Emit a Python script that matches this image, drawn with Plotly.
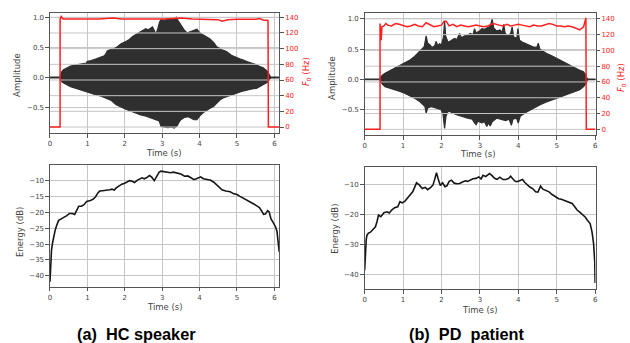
import plotly.graph_objects as go

# ---------------- data ----------------
TIME_TICKS = [0, 1, 2, 3, 4, 5, 6]
AMP_TICKS = [-0.5, 0.0, 0.5, 1.0]
AMP_TICK_LABELS = ["\u22120.5", "0.0", "0.5", "1.0"]
F0_TICKS = [0, 20, 40, 60, 80, 100, 120, 140]
HC_EN_TICKS = [-40, -35, -30, -25, -20, -15, -10]
HC_EN_TICK_LABELS = ["\u221240", "\u221235", "\u221230", "\u221225", "\u221220", "\u221215", "\u221210"]
PD_EN_TICKS = [-40, -30, -20, -10]
PD_EN_TICK_LABELS = ["\u221240", "\u221230", "\u221220", "\u221210"]

# HC speaker: waveform envelope (time s, amplitude)
HC_UPPER = [(0.00, 0.005), (0.26, 0.005), (0.28, 0.03), (0.31, 0.09), (0.36, 0.13), (0.44, 0.16),
            (0.55, 0.19), (0.70, 0.21), (0.85, 0.22), (0.97, 0.24), (1.00, 0.27), (1.10, 0.28),
            (1.24, 0.31), (1.35, 0.33), (1.45, 0.36), (1.50, 0.40), (1.53, 0.44), (1.60, 0.46),
            (1.68, 0.47), (1.78, 0.50), (1.90, 0.56), (2.04, 0.60), (2.12, 0.63), (2.21, 0.68),
            (2.35, 0.73), (2.48, 0.78), (2.56, 0.81), (2.62, 0.79), (2.74, 0.84), (2.79, 0.78),
            (2.83, 0.72), (2.88, 0.80), (2.93, 0.92), (2.97, 0.96), (3.05, 0.95), (3.15, 0.97),
            (3.23, 0.98), (3.32, 0.97), (3.38, 1.00), (3.42, 0.95), (3.47, 0.90), (3.52, 0.84),
            (3.60, 0.78), (3.67, 0.74), (3.76, 0.76), (3.85, 0.78), (3.93, 0.80), (3.98, 0.76),
            (4.05, 0.72), (4.15, 0.69), (4.28, 0.64), (4.38, 0.58), (4.46, 0.51), (4.60, 0.46),
            (4.72, 0.43), (4.85, 0.37), (4.99, 0.33), (5.12, 0.30), (5.25, 0.27), (5.40, 0.24),
            (5.52, 0.21), (5.62, 0.18), (5.70, 0.16), (5.78, 0.12), (5.83, 0.09), (5.87, 0.04),
            (5.90, 0.005), (6.13, 0.005)]
HC_LOWER = [(0.00, -0.005), (0.26, -0.005), (0.28, -0.03), (0.33, -0.08), (0.44, -0.12), (0.55, -0.15),
            (0.70, -0.18), (0.85, -0.20), (0.97, -0.23), (1.10, -0.26), (1.24, -0.29), (1.37, -0.31),
            (1.50, -0.34), (1.64, -0.38), (1.77, -0.45), (1.90, -0.49), (2.04, -0.53), (2.17, -0.57),
            (2.30, -0.59), (2.43, -0.62), (2.57, -0.64), (2.70, -0.66), (2.83, -0.70), (2.92, -0.72),
            (2.97, -0.81), (3.05, -0.82), (3.15, -0.83), (3.25, -0.82), (3.32, -0.84), (3.40, -0.80),
            (3.45, -0.74), (3.50, -0.70), (3.60, -0.66), (3.70, -0.65), (3.78, -0.67), (3.85, -0.70),
            (3.93, -0.70), (4.00, -0.64), (4.10, -0.58), (4.19, -0.54), (4.28, -0.51), (4.37, -0.48),
            (4.46, -0.42), (4.55, -0.37), (4.63, -0.34), (4.72, -0.32), (4.85, -0.29), (4.99, -0.26),
            (5.12, -0.23), (5.25, -0.21), (5.40, -0.19), (5.52, -0.18), (5.62, -0.14), (5.70, -0.12),
            (5.78, -0.09), (5.83, -0.07), (5.88, -0.03), (5.90, -0.005), (6.13, -0.005)]
# HC speaker: F0 contour (time s, Hz)
HC_F0 = [(0.00, 0), (0.27, 0), (0.27, 138), (0.30, 141), (0.35, 138), (0.50, 138), (0.80, 137.5),
         (1.00, 137.5), (1.30, 138), (1.50, 138.5), (1.70, 139), (1.90, 138), (2.20, 138),
         (2.50, 137.5), (2.80, 138), (3.00, 138), (3.30, 138.5), (3.50, 139), (3.80, 138),
         (4.00, 137.5), (4.30, 137.5), (4.50, 137), (4.60, 135), (4.75, 137), (5.00, 137.5),
         (5.30, 137), (5.50, 137.5), (5.60, 138.5), (5.70, 136.5), (5.83, 136), (5.84, 0), (6.13, 0)]
# HC speaker: energy contour (time s, dB)
HC_ENERGY = [(0.00, -41.9), (0.02, -36), (0.04, -32), (0.07, -29.5), (0.10, -27.5), (0.14, -25.5),
             (0.18, -24), (0.23, -22.5), (0.30, -22), (0.38, -21.6), (0.45, -21), (0.52, -20.3),
             (0.60, -20.3), (0.66, -20.6), (0.72, -19), (0.77, -18), (0.84, -18), (0.91, -17.5),
             (0.98, -16.5), (1.06, -16.3), (1.15, -15.8), (1.22, -15), (1.28, -13.8), (1.33, -13.2),
             (1.40, -13.1), (1.50, -13), (1.60, -12.8), (1.66, -12.6), (1.72, -12.9), (1.77, -12.2),
             (1.85, -11.5), (1.92, -11), (2.00, -10.7), (2.06, -10.2), (2.13, -9.9), (2.20, -10.1),
             (2.26, -10.5), (2.33, -9.8), (2.40, -9.4), (2.46, -9.0), (2.52, -9.3), (2.58, -9.0),
             (2.66, -8.3), (2.72, -8.8), (2.79, -9.9), (2.85, -8.5), (2.92, -7.2), (2.97, -6.9),
             (3.05, -7.1), (3.14, -7.2), (3.22, -7.4), (3.30, -7.2), (3.41, -7.4), (3.50, -7.8),
             (3.60, -8.5), (3.68, -8.4), (3.76, -8.9), (3.85, -9.6), (3.93, -9.2), (4.03, -8.7),
             (4.10, -9.3), (4.20, -9.5), (4.30, -9.8), (4.38, -10.4), (4.46, -11.3), (4.53, -12.2),
             (4.60, -12.8), (4.70, -13.2), (4.82, -13.4), (4.90, -14.0), (5.00, -14.3), (5.08, -14.9),
             (5.18, -15.5), (5.27, -16.0), (5.36, -16.7), (5.45, -17.3), (5.53, -17.9), (5.60, -18.4),
             (5.66, -19.5), (5.71, -20.6), (5.76, -20.5), (5.82, -19.4), (5.86, -19.8), (5.91, -22.0),
             (5.97, -23.2), (6.03, -24.5), (6.07, -26), (6.10, -29), (6.13, -32.5)]

# PD patient: waveform envelope (time s, amplitude)
PD_UPPER = [(0.00, 0.005), (0.39, 0.005), (0.41, 0.03), (0.46, 0.07), (0.53, 0.10), (0.65, 0.14),
            (0.79, 0.18), (0.92, 0.22), (1.04, 0.27), (1.18, 0.32), (1.30, 0.38), (1.40, 0.44),
            (1.48, 0.50), (1.55, 0.54), (1.60, 0.72), (1.64, 0.60), (1.69, 0.58), (1.75, 0.53),
            (1.82, 0.55), (1.86, 0.63), (1.90, 0.56), (1.95, 0.59), (2.00, 0.57), (2.05, 0.70),
            (2.08, 0.96), (2.11, 0.72), (2.17, 0.61), (2.25, 0.64), (2.34, 0.68), (2.40, 0.66),
            (2.47, 0.76), (2.52, 0.69), (2.60, 0.72), (2.68, 0.73), (2.75, 0.76), (2.82, 0.74),
            (2.86, 0.84), (2.90, 0.77), (2.99, 0.80), (3.05, 0.84), (3.12, 0.83), (3.20, 0.86),
            (3.27, 0.88), (3.32, 1.00), (3.36, 0.85), (3.44, 0.80), (3.52, 0.82), (3.58, 0.78),
            (3.62, 0.91), (3.66, 0.76), (3.72, 0.72), (3.80, 0.76), (3.84, 0.87), (3.88, 0.70),
            (3.96, 0.68), (3.99, 0.84), (4.03, 0.65), (4.10, 0.62), (4.18, 0.60), (4.28, 0.57),
            (4.38, 0.54), (4.48, 0.53), (4.52, 0.60), (4.56, 0.50), (4.65, 0.46), (4.74, 0.43),
            (4.87, 0.39), (5.00, 0.35), (5.12, 0.31), (5.25, 0.27), (5.38, 0.22), (5.51, 0.18),
            (5.60, 0.15), (5.69, 0.13), (5.74, 0.09), (5.77, 0.05), (5.80, 0.005), (6.01, 0.005)]
PD_LOWER = [(0.00, -0.005), (0.39, -0.005), (0.41, -0.04), (0.46, -0.08), (0.53, -0.12), (0.65, -0.14),
            (0.79, -0.17), (0.92, -0.20), (1.04, -0.23), (1.18, -0.27), (1.30, -0.31), (1.42, -0.36),
            (1.52, -0.42), (1.57, -0.45), (1.60, -0.56), (1.64, -0.47), (1.73, -0.45), (1.85, -0.47),
            (1.99, -0.50), (2.04, -0.58), (2.08, -0.81), (2.12, -0.60), (2.18, -0.52), (2.30, -0.56),
            (2.43, -0.59), (2.55, -0.62), (2.68, -0.64), (2.80, -0.66), (2.86, -0.72), (2.90, -0.75),
            (2.95, -0.69), (3.05, -0.72), (3.12, -0.70), (3.18, -0.78), (3.22, -0.72), (3.27, -0.77),
            (3.32, -0.70), (3.44, -0.64), (3.55, -0.66), (3.67, -0.68), (3.76, -0.66), (3.82, -0.76),
            (3.86, -0.66), (3.95, -0.64), (4.00, -0.72), (4.05, -0.61), (4.18, -0.55), (4.31, -0.50),
            (4.44, -0.46), (4.57, -0.42), (4.70, -0.38), (4.83, -0.34), (4.96, -0.31), (5.09, -0.28),
            (5.22, -0.25), (5.35, -0.23), (5.48, -0.20), (5.60, -0.17), (5.70, -0.12), (5.77, -0.06),
            (5.80, -0.005), (6.01, -0.005)]
# PD patient: F0 contour (time s, Hz)
PD_F0 = [(0.00, 0), (0.40, 0), (0.40, 134), (0.42, 118), (0.43, 113), (0.45, 130), (0.50, 131),
         (0.55, 134), (0.60, 132), (0.70, 131), (0.80, 134), (0.90, 133), (1.00, 131), (1.10, 130),
         (1.20, 131), (1.30, 133), (1.40, 131), (1.50, 130), (1.60, 135), (1.70, 132), (1.80, 130),
         (1.90, 131), (2.00, 132), (2.07, 137), (2.12, 137), (2.20, 131), (2.30, 133), (2.40, 130),
         (2.50, 132), (2.60, 131), (2.70, 130), (2.80, 131), (2.90, 132), (3.00, 131), (3.10, 130),
         (3.20, 131), (3.35, 134), (3.50, 132), (3.60, 131), (3.70, 133), (3.80, 131), (3.90, 132),
         (4.00, 133), (4.10, 132), (4.20, 131), (4.30, 130), (4.40, 132), (4.50, 131), (4.60, 131),
         (4.70, 133), (4.80, 134), (4.90, 133), (5.00, 131), (5.10, 131), (5.20, 130), (5.30, 131),
         (5.40, 130), (5.50, 128), (5.60, 126), (5.70, 130), (5.74, 141), (5.76, 141), (5.77, 0),
         (6.01, 0)]
# PD patient: energy contour (time s, dB)
PD_ENERGY = [(0.00, -38.7), (0.02, -32), (0.04, -28.5), (0.06, -27), (0.10, -26.3), (0.15, -26),
             (0.20, -25.2), (0.28, -24.2), (0.32, -22.5), (0.36, -20.3), (0.42, -20.8), (0.50, -19.5),
             (0.58, -19.2), (0.64, -19.6), (0.71, -18.5), (0.78, -17.8), (0.86, -17.5), (0.92, -15.8),
             (0.98, -16.2), (1.05, -15.6), (1.12, -14.5), (1.18, -13.6), (1.25, -12.5), (1.30, -11.0),
             (1.35, -9.5), (1.42, -10.2), (1.50, -11.4), (1.58, -11.0), (1.64, -11.8), (1.72, -11.0),
             (1.78, -10.2), (1.83, -8.0), (1.87, -6.1), (1.92, -8.5), (1.97, -10.4), (2.03, -9.5),
             (2.09, -10.8), (2.14, -10.5), (2.20, -9.0), (2.26, -8.6), (2.33, -9.6), (2.40, -9.8),
             (2.47, -9.7), (2.55, -9.2), (2.62, -8.8), (2.68, -9.0), (2.75, -8.4), (2.82, -8.1),
             (2.90, -8.0), (2.97, -7.5), (3.03, -8.2), (3.08, -7.0), (3.15, -7.4), (3.20, -7.0),
             (3.25, -6.4), (3.31, -7.0), (3.38, -8.0), (3.45, -8.3), (3.52, -7.6), (3.60, -8.4),
             (3.68, -8.4), (3.75, -8.0), (3.80, -7.3), (3.86, -8.2), (3.92, -9.0), (3.97, -9.1),
             (4.04, -8.8), (4.11, -8.4), (4.17, -9.4), (4.24, -10.4), (4.30, -10.9), (4.38, -11.5),
             (4.45, -12.5), (4.51, -12.6), (4.58, -10.6), (4.64, -11.6), (4.72, -12.0), (4.80, -12.5),
             (4.88, -13.4), (4.97, -14.2), (5.05, -14.8), (5.12, -15.0), (5.18, -15.3), (5.26, -15.6),
             (5.33, -16.0), (5.40, -16.4), (5.47, -17.5), (5.53, -18.6), (5.60, -19.3), (5.67, -20.0),
             (5.74, -20.9), (5.80, -22.0), (5.87, -23.1), (5.92, -26), (5.96, -29.8), (5.99, -36),
             (6.00, -43)]

HC_TMAX = 6.13
PD_TMAX = 6.01

# ---------------- figure ----------------
W, H = 630, 343
WAVE = "#2f2f2f"
GRID = "#c6c6c6"
AX = "#555555"
TXT = "#444444"
RED = "#ff2020"


def px(x):
    return x / W


def py(y):
    return 1 - y / H


def xs(pairs):
    return [p[0] for p in pairs]


def ys(pairs):
    return [p[1] for p in pairs]


fig = go.Figure()


def add_wave(upper, lower, f0, xa, ya, ya2, tmax):
    # waveform envelope (filled polygon)
    fig.add_trace(go.Scatter(
        x=xs(upper) + xs(lower)[::-1], y=ys(upper) + ys(lower)[::-1],
        fill="toself", fillcolor=WAVE, mode="lines",
        line=dict(color=WAVE, width=1.2), xaxis=xa, yaxis=ya,
        hoverinfo="skip", showlegend=False))
    # F0 axis gridlines (drawn above waveform, like the twin-axis grid)
    gx, gy = [], []
    for v in F0_TICKS:
        gx += [0, tmax, None]
        gy += [v, v, None]
    fig.add_trace(go.Scatter(x=gx, y=gy, mode="lines", line=dict(color=GRID, width=1),
                             xaxis=xa, yaxis=ya2, hoverinfo="skip", showlegend=False))
    fig.add_trace(go.Scatter(x=xs(f0), y=ys(f0), mode="lines",
                             line=dict(color=RED, width=1.5),
                             xaxis=xa, yaxis=ya2, showlegend=False))


add_wave(HC_UPPER, HC_LOWER, HC_F0, "x", "y", "y2", HC_TMAX)
add_wave(PD_UPPER, PD_LOWER, PD_F0, "x2", "y3", "y4", PD_TMAX)

fig.add_trace(go.Scatter(x=xs(HC_ENERGY), y=ys(HC_ENERGY), mode="lines",
                         line=dict(color="#161616", width=1.6), xaxis="x3", yaxis="y5",
                         showlegend=False))
fig.add_trace(go.Scatter(x=xs(PD_ENERGY), y=ys(PD_ENERGY), mode="lines",
                         line=dict(color="#161616", width=1.6), xaxis="x4", yaxis="y6",
                         showlegend=False))

base = dict(showline=True, mirror=True, linecolor=AX, linewidth=1, ticks="outside",
            ticklen=3.5, tickwidth=1, tickcolor=AX, tickfont=dict(size=7, color=TXT),
            showgrid=True, gridcolor=GRID, gridwidth=1, zeroline=False)

L_DOM = [px(48.3), px(279)]
R_DOM = [px(365), px(597.3)]

fig.update_layout(
    width=W, height=H, autosize=False,
    margin=dict(l=0, r=0, t=0, b=0),
    paper_bgcolor="white", plot_bgcolor="white",
    font=dict(family="DejaVu Sans", color=TXT, size=8.5),
    xaxis=dict(base, domain=L_DOM, anchor="y", range=[0, HC_TMAX], tickvals=TIME_TICKS),
    yaxis=dict(base, domain=[py(133.3), py(13)], anchor="x", range=[-0.925, 1.07],
               tickvals=AMP_TICKS, ticktext=AMP_TICK_LABELS),
    yaxis2=dict(base, overlaying="y", side="right", anchor="x", range=[-8, 145.5],
                tickvals=F0_TICKS, showgrid=False, mirror=False,
                tickfont=dict(size=7, color=RED)),
    xaxis2=dict(base, domain=R_DOM, anchor="y3", range=[0, PD_TMAX], tickvals=TIME_TICKS),
    yaxis3=dict(base, domain=[py(135), py(13.3)], anchor="x2", range=[-0.92, 1.094],
                tickvals=AMP_TICKS, ticktext=AMP_TICK_LABELS),
    yaxis4=dict(base, overlaying="y3", side="right", anchor="x2", range=[-7.2, 147],
                tickvals=F0_TICKS, showgrid=False, mirror=False,
                tickfont=dict(size=7, color=RED)),
    xaxis3=dict(base, domain=L_DOM, anchor="y5", range=[0, HC_TMAX], tickvals=TIME_TICKS),
    yaxis5=dict(base, domain=[py(286.7), py(165)], anchor="x3", range=[-43.5, -4.94],
                tickvals=HC_EN_TICKS, ticktext=HC_EN_TICK_LABELS),
    xaxis4=dict(base, domain=R_DOM, anchor="y6", range=[0, PD_TMAX], tickvals=TIME_TICKS),
    yaxis6=dict(base, domain=[py(289), py(166.7)], anchor="x4", range=[-45, -4.1],
                tickvals=PD_EN_TICKS, ticktext=PD_EN_TICK_LABELS),
)


def label(text, x, y, angle=0, color=TXT, size=8.5, family="DejaVu Sans"):
    fig.add_annotation(text=text, x=px(x), y=py(y), xref="paper", yref="paper",
                       showarrow=False, textangle=angle, xanchor="center", yanchor="middle",
                       font=dict(size=size, color=color, family=family))


F0_LABEL = "<i>F</i><sub>0</sub> (Hz)"
label("Amplitude", 15, 75, -90)
label(F0_LABEL, 306, 72, -90, color=RED)
label("Time (s)", 163, 153)
label("Amplitude", 332, 78, -90)
label(F0_LABEL, 623, 78, -90, color=RED)
label("Time (s)", 479, 154)
label("Energy (dB)", 18, 232, -90)
label("Time (s)", 164, 307)
label("Energy (dB)", 335, 229, -90)
label("Time (s)", 481, 310)
label("<b>(a)\u00a0 HC speaker</b>", 135, 334, color="black", size=16.3,
      family="Liberation Sans, Arial")
label("<b>(b)\u00a0 PD\u00a0 patient</b>", 467, 334, color="black", size=16.3,
      family="Liberation Sans, Arial")

fig.write_html(
    "out.html",
    config={"displayModeBar": False},
    post_script="document.body.style.margin='0';document.body.style.overflow='hidden';",
)
